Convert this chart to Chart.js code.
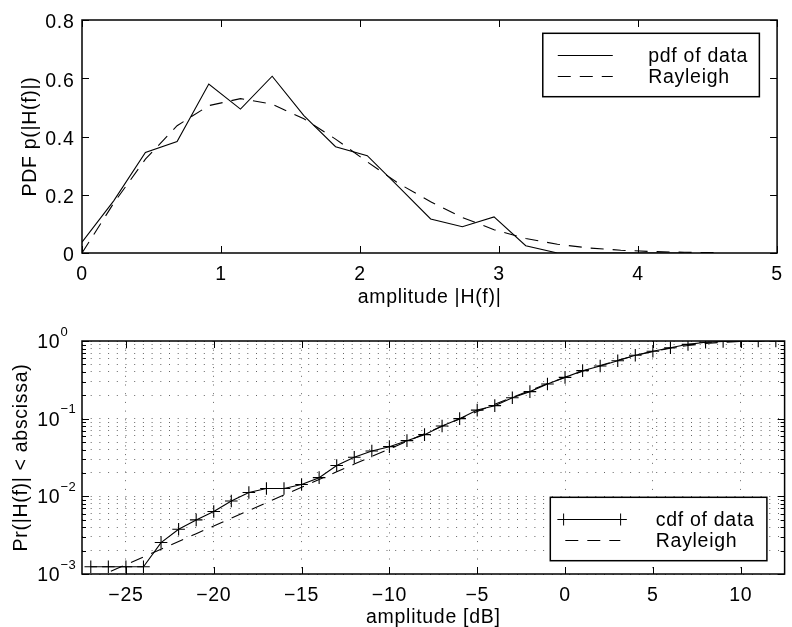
<!DOCTYPE html>
<html><head><meta charset="utf-8">
<script src="https://cdn.jsdelivr.net/npm/chart.js@4/dist/chart.umd.min.js"></script>
<style>
html,body{margin:0;padding:0;background:#fff;overflow:hidden;width:792px;height:627px;}
#c1{position:absolute;left:0;top:0;}
#c2{position:absolute;left:0;top:315px;}
</style></head><body>
<canvas id="c1" width="792" height="315"></canvas>
<canvas id="c2" width="792" height="320"></canvas>
<script>
// ---------- top panel: PDF ----------
const pdfAmplitude = [0, 0.228, 0.456, 0.684, 0.912, 1.14, 1.368, 1.596, 1.824, 2.052, 2.28, 2.508, 2.736, 2.964, 3.192, 3.42, 3.648, 3.876, 4.104, 4.332];
const pdfData      = [0.037, 0.179, 0.345, 0.383, 0.580, 0.494, 0.607, 0.472, 0.365, 0.334, 0.226, 0.117, 0.090, 0.124, 0.025, 0.0, 0.0, 0.0, 0.0, 0.0];
const rayPdfAmplitude = [0, 0.228, 0.456, 0.684, 0.912, 1.14, 1.368, 1.596, 1.824, 2.052, 2.28, 2.508, 2.736, 2.964, 3.192, 3.42, 3.648, 3.876, 4.104, 4.332, 4.56];
const rayPdfData      = [0, 0.171, 0.322, 0.437, 0.506, 0.530, 0.511, 0.461, 0.391, 0.313, 0.238, 0.176, 0.122, 0.080, 0.050, 0.030, 0.017, 0.0095, 0.005, 0.0025, 0.0012];
const pdfXTicks = [0, 1, 2, 3, 4, 5];
const pdfYTicks = [0, 0.2, 0.4, 0.6, 0.8];
const pdfLegend = ['pdf of data', 'Rayleigh'];

// ---------- bottom panel: CDF ----------
const cdfDb = [-27,-26,-25,-24,-23,-22,-21,-20,-19,-18,-17,-16,-15,-14,-13,-12,-11,-10,-9,-8,-7,-6,-5,-4,-3,-2,-1,0,1,2,3,4,5,6,7,8,9,10,11,12];
const cdfData = [0.00124,0.00124,0.00124,0.00124,0.00254,0.00377,0.00497,0.00637,0.0087,0.0112,0.0126,0.0126,0.0142,0.0174,0.0249,0.0318,0.0384,0.0436,0.0521,0.0623,0.0805,0.100,0.129,0.147,0.186,0.223,0.280,0.340,0.415,0.477,0.558,0.654,0.737,0.820,0.906,0.962,0.990,1.0,1.0,1.0];
const rayCdfData = [0.00083,0.00105,0.00132,0.00166,0.00209,0.00263,0.00330,0.00416,0.00523,0.00658,0.00828,0.0104,0.0131,0.0165,0.0207,0.0260,0.0326,0.0408,0.0511,0.0639,0.0798,0.0994,0.1235,0.1529,0.1885,0.231,0.282,0.341,0.408,0.483,0.565,0.649,0.732,0.810,0.876,0.928,0.964,0.985,0.995,0.999];
const cdfXTicks = [-25, -20, -15, -10, -5, 0, 5, 10];
const cdfDecades = [0.001, 0.01, 0.1];
const cdfMinorMultipliers = [1, 2, 3, 4, 5, 6, 7, 8, 9];
const cdfYTicks = [0.001, 0.01, 0.1, 1];
const cdfYTickExponents = ['\u22123', '\u22122', '\u22121', '0'];
const cdfLegend = ['cdf of data', 'Rayleigh'];

const FONT = 'Liberation Sans';
const FSIZE = 19.5;
const SPACING = '0.7px';
Chart.defaults.font.family = FONT;
Chart.defaults.font.size = FSIZE;
Chart.defaults.color = '#000';

const DASH = [13, 9];

const spacingPlugin = {
  id: 'spacing',
  beforeDraw(chart) { chart.ctx.letterSpacing = SPACING; }
};

function frameAndTicks(id, xLen, yMajorLen, yMinorLen, isLog) {
  return {
    id: id,
    afterDraw(chart) {
      const ctx = chart.ctx, ca = chart.chartArea, xs = chart.scales.x, ys = chart.scales.y;
      ctx.save();
      ctx.strokeStyle = '#000';
      ctx.lineWidth = 1;
      ctx.beginPath();
      xs.ticks.forEach(t => {
        const px = Math.round(xs.getPixelForValue(t.value)) + 0.5;
        ctx.moveTo(px, ca.bottom); ctx.lineTo(px, ca.bottom - xLen);
        ctx.moveTo(px, ca.top); ctx.lineTo(px, ca.top + xLen);
      });
      ys.ticks.forEach(t => {
        const py = Math.round(ys.getPixelForValue(t.value)) + 0.5;
        let L = yMajorLen;
        if (isLog) {
          const lg = Math.log10(t.value);
          L = Math.abs(lg - Math.round(lg)) < 1e-6 ? yMajorLen : yMinorLen;
        }
        ctx.moveTo(ca.left, py); ctx.lineTo(ca.left + L, py);
        ctx.moveTo(ca.right, py); ctx.lineTo(ca.right - L, py);
      });
      ctx.stroke();
      ctx.lineWidth = 1.5;
      ctx.strokeRect(ca.left, ca.top, ca.right - ca.left, ca.bottom - ca.top);
      ctx.restore();
    }
  };
}

function boxLegend(id, corner, labels, withMarker) {
  return {
    id: id,
    afterDraw(chart) {
      const ctx = chart.ctx, ca = chart.chartArea;
      const w = 216.6, h = 63.4;
      const x0 = ca.right - 17.7 - w;
      const y0 = corner === 'top' ? ca.top + 13.3 : ca.bottom - 13.3 - h;
      ctx.save();
      ctx.fillStyle = '#fff';
      ctx.fillRect(x0, y0, w, h);
      ctx.strokeStyle = '#000';
      ctx.lineWidth = 1.5;
      ctx.strokeRect(x0, y0, w, h);
      ctx.lineWidth = 1;
      ctx.font = FSIZE + 'px "' + FONT + '"';
      ctx.letterSpacing = SPACING;
      ctx.fillStyle = '#000';
      ctx.textBaseline = 'middle';
      ctx.textAlign = 'left';
      labels.forEach((lab, i) => {
        const ly = Math.round(y0 + 21.5 + i * 21.3) + 0.5;
        ctx.beginPath();
        if (i === 0) {
          ctx.setLineDash([]);
          if (withMarker) {
            ctx.moveTo(x0 + 7.3, ly); ctx.lineTo(x0 + 76.3, ly);
            [x0 + 13.3, x0 + 70.3].forEach(mx => {
              ctx.moveTo(mx - 6, ly); ctx.lineTo(mx + 6, ly);
              ctx.moveTo(mx, ly - 6); ctx.lineTo(mx, ly + 6);
            });
          } else {
            ctx.moveTo(x0 + 15, ly); ctx.lineTo(x0 + 70, ly);
          }
        } else {
          ctx.setLineDash(DASH);
          ctx.moveTo(x0 + 15, ly); ctx.lineTo(x0 + 70, ly);
        }
        ctx.stroke();
        ctx.setLineDash([]);
        ctx.fillText(lab, x0 + 105.5, ly + 1);
      });
      ctx.restore();
    }
  };
}

const logLabels = {
  id: 'logLabels',
  afterDraw(chart) {
    const ctx = chart.ctx, ys = chart.scales.y;
    ctx.save();
    ctx.fillStyle = '#000';
    ctx.textBaseline = 'middle';
    cdfYTicks.forEach((v, i) => {
      const py = ys.getPixelForValue(v);
      ctx.font = FSIZE + 'px "' + FONT + '"';
      ctx.letterSpacing = SPACING;
      ctx.textAlign = 'left';
      ctx.fillText('10', 37.3, py + 1.5);
      ctx.font = '13px "' + FONT + '"';
      ctx.letterSpacing = '0.4px';
      ctx.fillText(cdfYTickExponents[i], 60.5, py - 9);
    });
    ctx.restore();
  }
};

// ---------- top chart ----------
new Chart(document.getElementById('c1'), {
  type: 'line',
  data: {
    datasets: [
      { label: pdfLegend[0], data: pdfAmplitude.map((x, i) => ({ x: x, y: pdfData[i] })),
        borderColor: '#000', borderWidth: 1.1, pointRadius: 0, fill: false, tension: 0 },
      { label: pdfLegend[1], data: rayPdfAmplitude.map((x, i) => ({ x: x, y: rayPdfData[i] })),
        borderColor: '#000', borderWidth: 1.1, borderDash: DASH, pointRadius: 0, fill: false, tension: 0 }
    ]
  },
  options: {
    responsive: false, animation: false, events: [],
    layout: { padding: { top: 20, right: 6, left: 0, bottom: 0 } },
    plugins: { legend: { display: false }, tooltip: { enabled: false } },
    scales: {
      x: {
        type: 'linear', min: 0, max: 5,
        afterBuildTicks: s => { s.ticks = pdfXTicks.map(v => ({ value: v })); },
        afterFit: s => { s.height = 62; },
        grid: { display: false, drawTicks: false },
        border: { display: false },
        ticks: { padding: 9.5, maxRotation: 0, autoSkip: false, callback: v => String(v) },
        title: { display: true, text: 'amplitude |H(f)|', padding: { top: 0, bottom: 5.5 } }
      },
      y: {
        type: 'linear', min: 0, max: 0.8,
        afterBuildTicks: s => { s.ticks = pdfYTicks.map(v => ({ value: v })); },
        afterFit: s => { s.width = 82; },
        grid: { display: false, drawTicks: false },
        border: { display: false },
        ticks: { padding: 7.5, labelOffset: 3, autoSkip: false, callback: v => String(v) },
        title: { display: true, text: 'PDF p(|H(f)|)', padding: { top: 19, bottom: 0 } }
      }
    }
  },
  plugins: [spacingPlugin, frameAndTicks('ft1', 7, 7, 7, false), boxLegend('lg1', 'top', pdfLegend, false)]
});

// ---------- bottom chart ----------
new Chart(document.getElementById('c2'), {
  type: 'line',
  data: {
    datasets: [
      { label: cdfLegend[0], data: cdfDb.map((x, i) => ({ x: x, y: cdfData[i] })),
        borderColor: '#000', borderWidth: 1.1, pointStyle: 'cross', pointRadius: 6.3,
        pointBorderColor: '#000', pointBorderWidth: 1.1, pointBackgroundColor: 'rgba(0,0,0,0)', fill: false, tension: 0 },
      { label: cdfLegend[1], data: cdfDb.map((x, i) => ({ x: x, y: rayCdfData[i] })),
        borderColor: '#000', borderWidth: 1.1, borderDash: DASH, pointRadius: 0, fill: false, tension: 0 }
    ]
  },
  options: {
    responsive: false, animation: false, events: [],
    layout: { padding: { top: 26, right: 6, left: 0, bottom: 0 } },
    plugins: { legend: { display: false }, tooltip: { enabled: false } },
    scales: {
      x: {
        type: 'linear', min: -27.5, max: 12.5,
        afterBuildTicks: s => { s.ticks = cdfXTicks.map(v => ({ value: v })); },
        afterFit: s => { s.height = 61; },
        grid: { display: true, drawTicks: false, color: '#666', lineWidth: 1 },
        border: { display: false, dash: [1, 7.7] },
        ticks: { padding: 9.5, maxRotation: 0, autoSkip: false,
                 callback: v => (v < 0 ? '\u2212' + Math.abs(v) : String(v)) },
        title: { display: true, text: 'amplitude [dB]', padding: { top: 0, bottom: 5.2 } }
      },
      y: {
        type: 'logarithmic', min: 0.001, max: 1,
        afterBuildTicks: s => {
          const t = [];
          cdfDecades.forEach(d => cdfMinorMultipliers.forEach(m => t.push({ value: +(d * m).toPrecision(3) })));
          t.push({ value: cdfYTicks[cdfYTicks.length - 1] });
          s.ticks = t;
        },
        afterFit: s => { s.width = 82; },
        grid: { display: true, drawTicks: false, color: '#666', lineWidth: 1 },
        border: { display: false, dash: [1, 7.7] },
        ticks: { autoSkip: false, callback: () => '' },
        title: { display: true, text: 'Pr(|H(f)| < abscissa)', padding: { top: 10, bottom: 0 } }
      }
    }
  },
  plugins: [spacingPlugin, frameAndTicks('ft2', 7, 7, 4, true), logLabels, boxLegend('lg2', 'bottom', cdfLegend, true)]
});
</script>
</body></html>
